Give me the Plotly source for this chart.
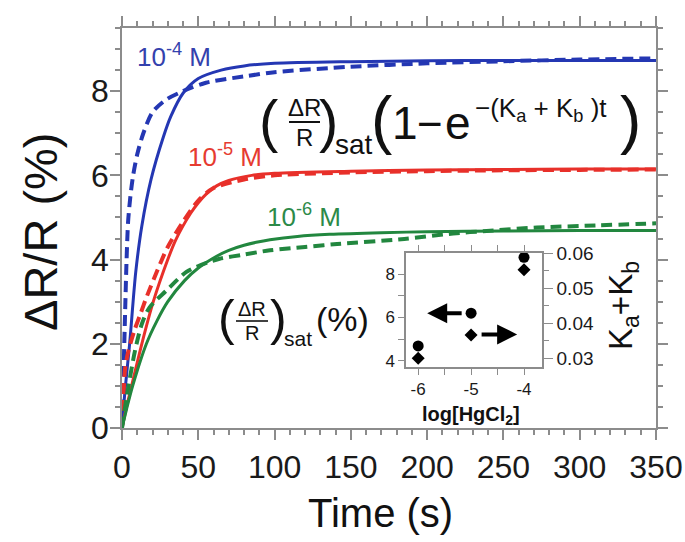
import plotly.graph_objects as go

# ---------------- data ----------------
blue_solid_t = [0, 2, 5, 9, 13, 19, 27, 32, 40, 50, 65, 80, 100, 150, 200, 250, 300, 350]
blue_solid_v = [0, 0.9, 2.0, 3.7, 4.8, 5.9, 6.9, 7.4, 7.95, 8.3, 8.5, 8.6, 8.66, 8.7, 8.72, 8.73, 8.73, 8.73]
blue_dash_t = [0, 1, 2, 3, 4, 5.5, 7.3, 10, 14, 20, 29, 40, 55, 80, 100, 150, 200, 250, 300, 350]
blue_dash_v = [0, 1.3, 2.7, 4.0, 4.9, 5.5, 6.0, 6.5, 7.0, 7.5, 7.8, 8.0, 8.2, 8.35, 8.45, 8.58, 8.66, 8.71, 8.75, 8.78]

red_solid_t = [0, 3, 6.3, 13, 20.5, 30, 35, 40, 45, 50, 55, 62, 70, 85, 100, 150, 200, 250, 300, 350]
red_solid_v = [0, 0.5, 1.0, 2.0, 3.0, 4.0, 4.45, 4.8, 5.1, 5.35, 5.55, 5.75, 5.88, 6.0, 6.05, 6.1, 6.13, 6.14, 6.15, 6.15]
red_dash_t = [0, 1, 2, 4, 8, 12, 16, 25, 30, 40, 50, 60, 80, 100, 150, 200, 250, 300, 350]
red_dash_v = [0, 0.8, 1.4, 1.8, 2.3, 2.7, 3.1, 3.9, 4.3, 4.9, 5.4, 5.7, 5.9, 6.0, 6.07, 6.1, 6.12, 6.13, 6.14]

green_solid_t = [0, 3, 7, 16, 23, 30, 41, 50, 62, 70, 80, 88, 97, 115, 136, 170, 200, 250, 300, 350]
green_solid_v = [0, 0.45, 1.0, 2.0, 2.55, 3.0, 3.5, 3.8, 4.08, 4.22, 4.34, 4.41, 4.47, 4.55, 4.6, 4.64, 4.66, 4.68, 4.69, 4.69]
green_dash_t = [0, 3, 8.5, 13, 18, 29, 42, 56, 64, 80, 97, 120, 141, 185, 217, 239, 272, 310, 350]
green_dash_v = [0, 0.72, 1.83, 2.47, 2.86, 3.26, 3.7, 3.93, 4.02, 4.12, 4.22, 4.3, 4.37, 4.49, 4.62, 4.68, 4.76, 4.81, 4.86]

conc_labels = ["10<sup>-4</sup> M", "10<sup>-5</sup> M", "10<sup>-6</sup> M"]

# inset
log_conc = [-6, -5, -4]
sat_pct = [4.69, 6.2, 8.77]
k_sum = [0.0300, 0.0366, 0.0552]

x_ticks = [0, 50, 100, 150, 200, 250, 300, 350]
y_ticks = [0, 2, 4, 6, 8]

# ---------------- style ----------------
BLUE = "#2437b3"
RED = "#e8302a"
GREEN = "#22873f"
AX = "#8c8c8c"
FONT = "Liberation Sans, Arial, sans-serif"

W, H = 685, 542
L, R, T, B = 122, 29, 28, 114
PW, PH = W - L - R, H - T - B


def px(x):
    return (x - L) / PW


def py(y):
    return (H - B - y) / PH


fig = go.Figure()

series = [
    (blue_dash_t, blue_dash_v, BLUE, True),
    (blue_solid_t, blue_solid_v, BLUE, False),
    (red_dash_t, red_dash_v, RED, True),
    (red_solid_t, red_solid_v, RED, False),
    (green_dash_t, green_dash_v, GREEN, True),
    (green_solid_t, green_solid_v, GREEN, False),
]
for t, v, c, dashed in series:
    fig.add_trace(go.Scatter(
        x=t, y=v, mode="lines",
        line=dict(color=c, width=4 if dashed else 3, shape="spline", smoothing=0.8,
                  dash="11px,6px" if dashed else "solid"),
        showlegend=False, hoverinfo="skip", xaxis="x", yaxis="y"))

# inset traces
fig.add_trace(go.Scatter(x=log_conc, y=sat_pct, mode="markers",
                         marker=dict(symbol="circle", size=11, color="black"),
                         xaxis="x2", yaxis="y2", showlegend=False))
fig.add_trace(go.Scatter(x=log_conc, y=k_sum, mode="markers",
                         marker=dict(symbol="diamond", size=10, color="black"),
                         xaxis="x2", yaxis="y3", showlegend=False))

axis_common = dict(showline=True, linecolor=AX, linewidth=1.5, ticks="outside",
                   tickcolor=AX, showgrid=False, zeroline=False, mirror="ticks",
                   automargin=False)

fig.update_layout(
    template="none",
    width=W, height=H,
    margin=dict(l=L, r=R, t=T, b=B, autoexpand=False),
    paper_bgcolor="white", plot_bgcolor="white",
    font=dict(family=FONT, color="#1a1a1a"),
    showlegend=False,
    xaxis=dict(range=[0, 350], tickvals=x_ticks, ticklen=10, tickwidth=1.5,
               tickfont=dict(size=32, color="#1a1a1a"),
               minor=dict(dtick=10, tick0=0, ticklen=5, ticks="outside", tickcolor=AX),
               **axis_common),
    yaxis=dict(range=[0, 9.5], tickvals=y_ticks, ticklen=10, tickwidth=1.5,
               tickfont=dict(size=32, color="#1a1a1a"), ticklabelstandoff=-5,
               minor=dict(dtick=0.5, tick0=0, ticklen=5, ticks="outside", tickcolor=AX),
               **axis_common),
    xaxis2=dict(domain=[px(406), px(542)], anchor="y2", range=[-6.23, -3.66],
                tickvals=[-6, -5.5, -5, -4.5, -4], ticktext=["-6", "", "-5", "", "-4"],
                ticklen=6, tickfont=dict(size=17, color="#1a1a1a"),
                **axis_common),
    yaxis2=dict(domain=[py(367), py(253)], anchor="x2", range=[3.72, 8.97],
                tickvals=[4, 5, 6, 7, 8], ticktext=["4", "", "6", "", "8"],
                ticklen=6, tickfont=dict(size=17, color="#1a1a1a"),
                showline=True, linecolor=AX, linewidth=1.5, ticks="outside",
                tickcolor=AX, showgrid=False, zeroline=False, automargin=False),
    yaxis3=dict(overlaying="y2", side="right", anchor="x2", range=[0.0275, 0.06],
                tickvals=[0.03, 0.04, 0.05, 0.06], ticktext=["0.03", "0.04", "0.05", "0.06"],
                ticklen=9, tickfont=dict(size=19, color="#1a1a1a"),
                minor=dict(dtick=0.005, tick0=0.03, ticklen=5, ticks="outside", tickcolor=AX),
                showline=True, linecolor=AX, linewidth=1.5, ticks="outside",
                tickcolor=AX, showgrid=False, zeroline=False, automargin=False),
)

ann = []


def txt(text, x, y, size, color="#111", angle=0, bold=False):
    if bold:
        text = "<b>" + text + "</b>"
    ann.append(dict(text=text, x=px(x), y=py(y), xref="paper", yref="paper",
                    xanchor="center", yanchor="middle", showarrow=False,
                    textangle=angle, font=dict(size=size, color=color, family=FONT)))


# axis titles
txt("ΔR/R (%)", 40, 232, 47, angle=-90)
txt("Time (s)", 380, 513, 40)

# concentration labels
txt(conc_labels[0], 174, 56, 26, color="#3441ad")
txt(conc_labels[1], 225, 155, 26, color="#e63b30")
txt(conc_labels[2], 304, 215, 26, color="#2c8a48")

# big equation
txt("(", 268, 120, 58)
txt("ΔR", 304, 108, 24)
txt("R", 304, 137, 24)
txt(")", 328, 120, 58)
txt("sat", 354, 144, 28)
txt("(", 381, 120, 64)
txt("1", 405, 123, 46)
txt("−", 430, 123, 44)
txt("e", 458, 123, 46)
txt("−(K<sub>a</sub> + K<sub>b</sub> )t", 541, 109, 26)
txt(")", 630, 120, 64)

# inset left label
txt("(", 226, 318, 50)
txt("ΔR", 252, 309, 20)
txt("R", 252, 333, 20)
txt(")", 278, 318, 50)
txt("sat", 298, 338, 21)
txt("(%)", 342, 319, 34)

# inset axis labels
txt("log[HgCl<sub>2</sub>]", 471, 415, 20, bold=True)
txt("K<sub>a</sub>+K<sub>b</sub>", 623, 306, 33, angle=-90)

# inset arrows
ann.append(dict(x=-5.83, y=6.2, ax=-5.15, ay=6.2, xref="x2", yref="y2",
                axref="x2", ayref="y2", showarrow=True, arrowhead=2,
                arrowsize=1, arrowwidth=4, arrowcolor="black", text=""))
ann.append(dict(x=-4.13, y=0.0368, ax=-4.83, ay=0.0368, xref="x2", yref="y3",
                axref="x2", ayref="y3", showarrow=True, arrowhead=2,
                arrowsize=1, arrowwidth=4, arrowcolor="black", text=""))

fig.update_layout(annotations=ann)

# fraction bars
fig.add_shape(type="line", xref="paper", yref="paper",
              x0=px(289), x1=px(320), y0=py(122), y1=py(122),
              line=dict(color="#111", width=2))
fig.add_shape(type="line", xref="paper", yref="paper",
              x0=px(236), x1=px(268), y0=py(321), y1=py(321),
              line=dict(color="#111", width=1.6))

fig.write_html("out.html", config={"displayModeBar": False})

# remove the default page margin so the figure sits at the window's top-left corner
with open("out.html", encoding="utf-8") as f:
    html = f.read()
html = html.replace("<head>", "<head><style>html,body{margin:0;padding:0;}</style>", 1)
with open("out.html", "w", encoding="utf-8") as f:
    f.write(html)
